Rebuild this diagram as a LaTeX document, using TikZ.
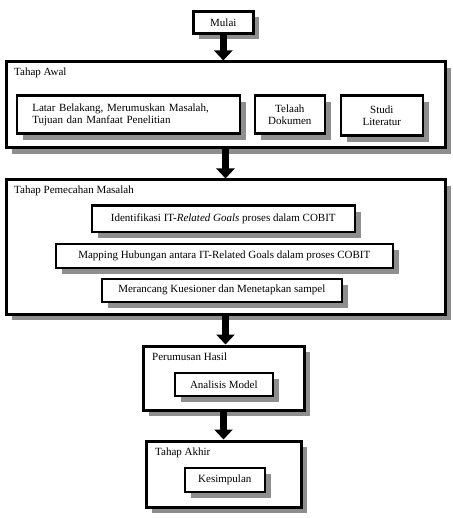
\documentclass[tikz,border=0pt]{standalone}
\usepackage{fontspec}
\setmainfont{Liberation Serif}
\usepackage{xcolor}
\usetikzlibrary{arrows.meta,shadows,positioning}
\definecolor{shade}{HTML}{8E8E8E}
\tikzset{
  frame/.style={draw=black, line width=2.6pt, fill=white, anchor=north west,
    inner sep=0pt, align=center, font=\fontsize{11}{11.5}\selectfont,
    drop shadow={shadow xshift=6pt, shadow yshift=-6pt, fill=shade, opacity=1}},
  stage/.style={frame, line width=3pt},
  lab/.style={anchor=west, inner sep=0pt, font=\fontsize{11}{11.5}\selectfont},
  flow/.style={line width=7pt, -{Triangle[width=18pt,length=10pt]}}
}
\begin{document}
\begin{tikzpicture}[x=1pt, y=-1pt]
  \useasboundingbox (0,0) rectangle (452,518);

  \node[frame, minimum width=60pt, minimum height=22pt] (mulai) at (192,10) {Mulai};

  % Tahap Awal
  \node[stage, minimum width=439pt, minimum height=86pt] (awal) at (4.5,60.5) {};
  \node[lab] (awalLab) at (14,73) {Tahap Awal};
  \node[frame, minimum width=223pt, minimum height=38pt, text width=192pt, align=left] (latar) at (15.5,94.5)
    {Latar Belakang, Merumuskan Masalah,\\ Tujuan dan Manfaat Penelitian};
  \node[frame, minimum width=70pt, minimum height=38pt] (telaah) at (253.5,94.5) {Telaah\\ Dokumen};
  \node[frame, minimum width=82pt, minimum height=40pt] (studi) at (339.5,94.5) {Studi\\ Literatur};

  % Tahap Pemecahan Masalah
  \node[stage, minimum width=439pt, minimum height=134pt] (pemecahan) at (4.5,178.5) {};
  \node[lab] (pemecahanLab) at (14,191) {Tahap Pemecahan Masalah};
  \node[frame, minimum width=263pt, minimum height=26pt] (identifikasi) at (90.5,204.5)
    {Identifikasi IT-\textit{Related Goals} proses dalam COBIT};
  \node[frame, minimum width=337pt, minimum height=24pt] (mapping) at (54.5,242.5)
    {Mapping Hubungan antara IT-Related Goals dalam proses COBIT};
  \node[frame, minimum width=240pt, minimum height=23pt] (merancang) at (100.5,277.5)
    {Merancang Kuesioner dan Menetapkan sampel};

  % Perumusan Hasil
  \node[stage, minimum width=161pt, minimum height=64pt] (perumusan) at (141.5,344.5) {};
  \node[lab] (perumusanLab) at (152,357) {Perumusan Hasil};
  \node[frame, minimum width=98pt, minimum height=23pt] (analisis) at (173.5,371.5) {Analisis Model};

  % Tahap Akhir
  \node[stage, minimum width=155pt, minimum height=66pt] (akhir) at (144.5,439.5) {};
  \node[lab] (akhirLab) at (155,453) {Tahap Akhir};
  \node[frame, minimum width=80pt, minimum height=24pt] (kesimpulan) at (183.5,466.5) {Kesimpulan};

  % panah antar tahap
  \draw[flow] (mulai.south) -- (mulai.south |- awal.north);
  \draw[flow] (awal.south) -- (awal.south |- pemecahan.north);
  \draw[flow] (pemecahan.south) -- (pemecahan.south |- perumusan.north);
  \draw[flow] (perumusan.south) -- (perumusan.south |- akhir.north);
\end{tikzpicture}
\end{document}
